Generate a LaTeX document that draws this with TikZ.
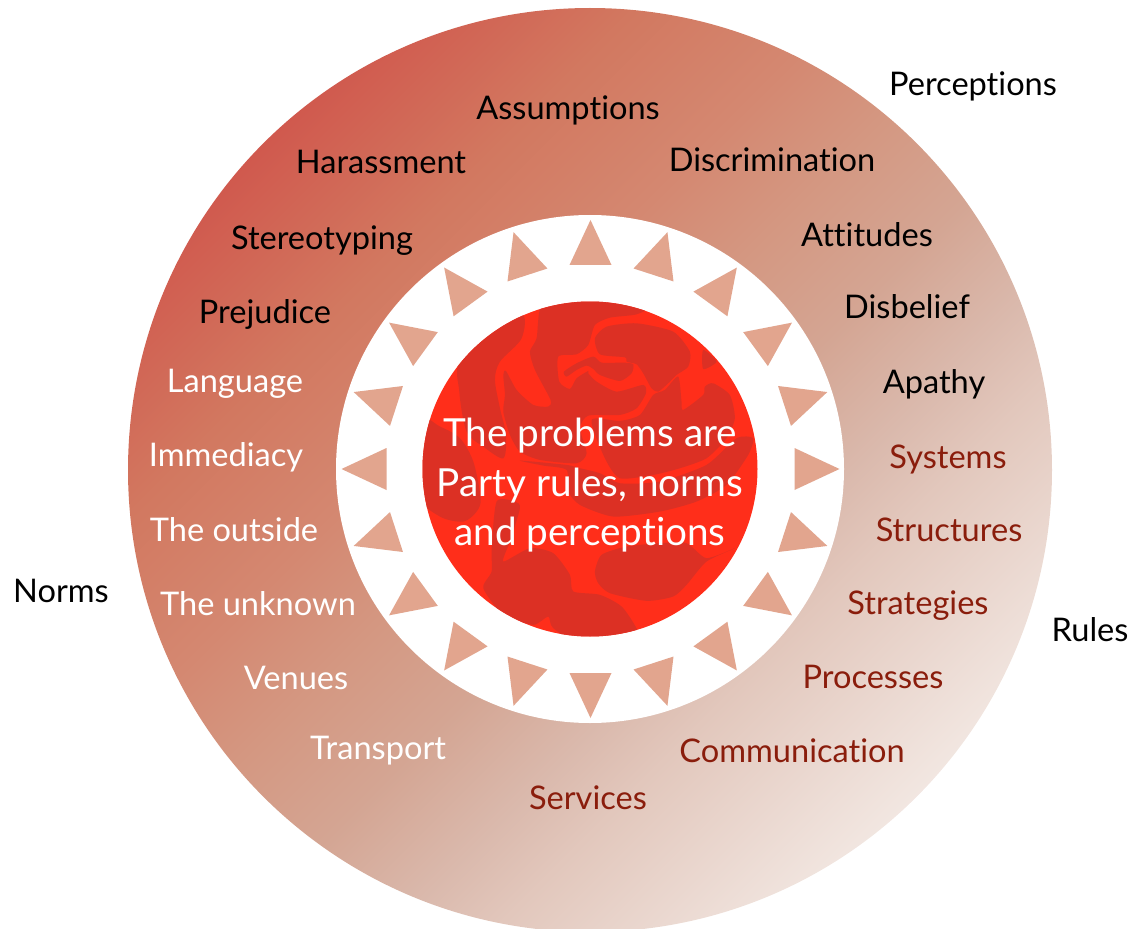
\documentclass[tikz,border=0pt]{standalone}
\usepackage{fontspec}
\setmainfont[Ligatures=NoCommon]{Lato}
\definecolor{arrowfill}{HTML}{E2A58E}
\definecolor{rosebright}{HTML}{FF2E1A}
\definecolor{rosedark}{HTML}{DC3024}
\definecolor{ruletext}{HTML}{8A1D0C}
\pgfdeclarehorizontalshading{ringshade}{100bp}{rgb(0bp)=(.812,.322,.290); rgb(22bp)=(.812,.322,.290); rgb(24bp)=(.816,.337,.298); rgb(34bp)=(.824,.471,.376); rgb(42bp)=(.831,.533,.443); rgb(48bp)=(.831,.596,.510); rgb(54bp)=(.831,.647,.576); rgb(60bp)=(.855,.725,.675); rgb(64bp)=(.886,.780,.737); rgb(76bp)=(.953,.914,.894); rgb(80bp)=(.969,.941,.925); rgb(100bp)=(.969,.941,.925)}
\tikzset{
  label/.style={font=\fontsize{27.8}{32}\selectfont,anchor=base},
  percept/.style={label,text=black},
  norm/.style={label,text=white},
  rule/.style={label,text=ruletext},
  centre/.style={font=\fontsize{33}{36}\selectfont,anchor=base,text=white},
  petal/.style={fill=rosedark}
}
\begin{document}
\begin{tikzpicture}[x=.03cm,y=-.03cm]
  \useasboundingbox (0,0) rectangle (1135,929);
  % outer ring
  \begin{scope}
    \clip (0,0) rectangle (1135,929);
    \shade[shading=ringshade,shading angle=-45] (590,470) circle (462);
  \end{scope}
  % white band
  \fill[white] (590,469) circle (254);
  % arrows
  \foreach \a in {0,18,...,342}
    \fill[arrowfill,rotate around={\a:(590.5,469)}] (569.5,265) -- (590.5,220) -- (611.5,265) -- cycle;
  % rose
  \fill[rosebright] (590,469) circle (167.5);
  \begin{scope}
    \clip (590,469) circle (167.5);
    \begin{scope}[shift={(420,295)},x=.01cm,y=-.01cm]
      % left petals
      \fill[petal] plot[smooth cycle,tension=.5] coordinates {(125,190) (300,60) (305,130) (240,200) (225,255) (240,340) (258,420) (250,490) (190,455) (140,410) (118,290)};
      \fill[petal] plot[smooth cycle,tension=.5] coordinates {(-10,370) (60,395) (120,430) (160,500) (182,610) (170,650) (130,680) (60,665) (0,600)};
      % upper middle
      \fill[petal] plot[smooth cycle,tension=.4] coordinates {(370,20) (510,0) (690,30) (650,58) (570,68) (525,90) (505,150) (470,178) (415,185) (418,260) (450,282) (470,250) (505,228) (505,235) (530,260) (590,290) (670,270) (678,295) (650,340) (600,360) (505,362) (480,400) (500,475) (470,505) (360,495) (300,470) (270,420) (250,350) (255,300) (250,240) (258,228) (290,285) (340,330) (385,335) (392,315) (345,225) (330,170) (350,130)};
      \fill[petal] plot[smooth cycle,tension=.4] coordinates {(432,230) (470,205) (520,185) (545,203) (612,203) (640,208) (635,235) (600,258) (540,240) (520,222) (500,212) (470,225) (440,245)};
      % upper right
      \fill[petal] plot[smooth cycle,tension=.4] coordinates {(525,130) (560,95) (650,85) (760,110) (810,170) (805,215) (770,240) (745,265) (715,290) (695,280) (670,235) (650,208) (620,200) (615,187) (540,178)};
      \fill[petal] plot[smooth cycle,tension=.4] coordinates {(850,165) (890,200) (850,222)};
      \fill[petal] plot[smooth cycle,tension=.4] coordinates {(700,300) (735,285) (775,245) (785,320) (790,345) (850,300) (855,275) (880,265) (930,300) (945,370) (920,430) (860,490) (780,520) (700,540) (600,550) (555,490) (515,375) (600,378) (660,360)};
      % lower middle
      \fill[petal] plot[smooth cycle,tension=.4] coordinates {(300,497) (370,512) (440,525) (445,590) (480,630) (580,665) (720,650) (830,620) (920,570) (985,480) (1000,430) (950,430) (860,510) (720,560) (600,565) (540,535) (480,520) (440,510)};
      % lower right
      \fill[petal] plot[smooth cycle,tension=.4] coordinates {(525,830) (545,780) (620,755) (720,745) (800,745) (860,790) (945,760) (860,800) (800,870) (760,905) (680,918) (570,895) (535,865)};
      % lower left
      \fill[petal] plot[smooth cycle,tension=.4] coordinates {(190,880) (215,830) (215,760) (230,620) (285,620) (300,640) (270,740) (250,800) (330,760) (400,775) (450,840) (460,890) (540,900) (610,940) (660,1040) (500,1060) (400,1000) (385,965) (340,990) (250,960)};
    \end{scope}
  \end{scope}
  % centre text
  \node[centre] at(590,446)(line1){The problems are};
  \node[centre] at(590,496)(line2){Party rules, norms};
  \node[centre] at(590,545)(line3){and perceptions};
  % headings
  \node[percept] at(973,96)(perceptions){Perceptions};
  \node[percept] at(1090,641)(rules){Rules};
  \node[percept] at(61,602)(norms){Norms};
  % perceptions
  \node[percept] at(568,120)(assumptions){Assumptions};
  \node[percept] at(381,174)(harassment){Harassment};
  \node[percept] at(772,172)(discrimination){Discrimination};
  \node[percept] at(322,250)(stereotyping){Stereotyping};
  \node[percept] at(867,246)(attitudes){Attitudes};
  \node[percept] at(265,323)(prejudice){Prejudice};
  \node[percept] at(907,318)(disbelief){Disbelief};
  \node[percept] at(934,393)(apathy){Apathy};
  % norms
  \node[norm] at(235,392)(language){Language};
  \node[norm] at(226,466)(immediacy){Immediacy};
  \node[norm] at(234,541)(outside){The outside};
  \node[norm] at(258,615)(unknown){The unknown};
  \node[norm] at(296,689)(venues){Venues};
  \node[norm] at(378,759)(transport){Transport};
  % rules
  \node[rule] at(948,468)(systems){Systems};
  \node[rule] at(949,541)(structures){Structures};
  \node[rule] at(918,614)(strategies){Strategies};
  \node[rule] at(873,688)(processes){Processes};
  \node[rule] at(792,762)(communication){Communication};
  \node[rule] at(588,809)(services){Services};
\end{tikzpicture}
\end{document}
